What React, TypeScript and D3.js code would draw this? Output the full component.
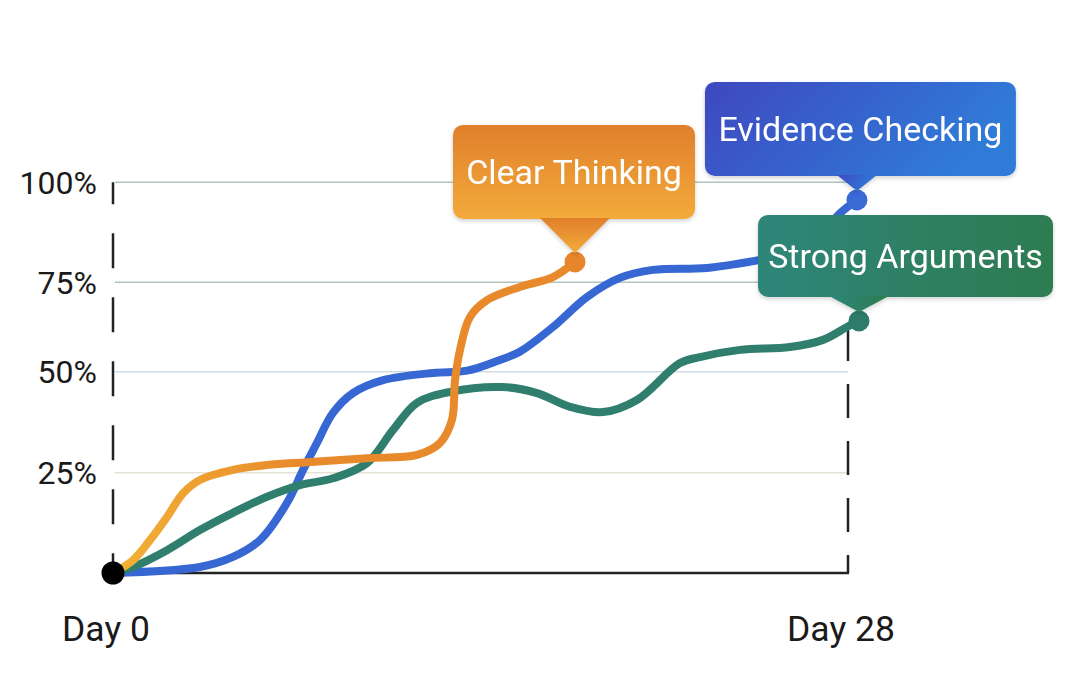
import React from 'react'
import * as d3 from 'd3'

// [day, percent]
const clearThinking: [number, number][] = [
  [0, 0], [0.76, 3.2], [1.41, 8.2], [2.06, 14], [2.67, 19.9], [3.31, 23.2],
  [4.57, 25.7], [5.87, 26.9], [7.39, 27.6], [9.68, 28.6], [11.58, 29.4],
  [12.46, 32.4], [12.91, 38], [13.03, 47.9], [13.22, 56.1], [13.6, 65.3],
  [14.25, 70], [15.5, 73.7], [16.76, 76.3], [17.6, 80.1]
]
const evidenceChecking: [number, number][] = [
  [0, 0], [3.31, 1.5], [4.57, 4], [5.6, 8.2], [6.63, 17.5], [7.24, 25.7],
  [7.77, 32.4], [8.38, 39.8], [9.14, 44.7], [10.29, 47.9], [12.19, 49.7],
  [13.49, 50.3], [14.74, 53.3], [15.5, 55.6], [16.76, 62.5], [18.06, 70.9],
  [19.31, 76.1], [20.57, 78.1], [22.63, 78.6], [24.65, 80.6], [25.94, 82.3],
  [26.93, 86.8], [27.7, 92.3], [28.34, 95.6]
]
const strongArguments: [number, number][] = [
  [0, 0], [0.76, 1.5], [2.06, 5.7], [3.31, 10.7], [4.57, 15], [5.87, 19],
  [7.12, 21.9], [8.38, 23.6], [9.68, 27.4], [10.67, 35.6], [11.58, 42.3],
  [12.84, 45], [14.86, 46.2], [16.15, 44.7], [17.41, 41.3], [18.67, 40],
  [19.96, 43], [21.6, 52.4], [22.36, 54.1], [23.89, 56.1], [25.79, 56.9],
  [27.05, 58.9], [27.96, 62.5], [28.42, 64.2]
]

const yTicks = [25, 50, 75, 100]
const yTickLabels = ['25%', '50%', '75%', '100%']
const xTicks = [0, 28]
const xTickLabels = ['Day 0', 'Day 28']

const gridColors = ['#e6e1d7', '#cfdbe4', '#b3c3bd', '#b3c3bd']

const series = [
  { key: 'evidence', label: 'Evidence Checking', data: evidenceChecking, color: '#3667d2', dot: '#3a6ad6' },
  { key: 'strong', label: 'Strong Arguments', data: strongArguments, color: '#2f7e6e', dot: '#2f7b6b' },
  { key: 'clear', label: 'Clear Thinking', data: clearThinking, color: 'url(#orangeLine)', dot: '#e6852b' }
]

// callout box layout relative to each series' last point
const callouts: Record<string, { dx: number; gap: number; w: number; h: number; pw: number; fill: string }> = {
  clear: { dx: -1, gap: 43, w: 242, h: 94, pw: 35, fill: 'url(#orangeBox)' },
  evidence: { dx: 3.5, gap: 24, w: 311, h: 94, pw: 20, fill: 'url(#blueBox)' },
  strong: { dx: 46.5, gap: 24, w: 295, h: 82, pw: 30, fill: 'url(#greenBox)' }
}

const W = 1069
const H = 697
const FONT = 'Roboto, "Noto Sans", sans-serif'

const App: React.FC = () => {
  const x = d3.scaleLinear().domain([0, 28]).range([113, 848])
  // the picture's gridlines are not evenly spaced, so a piecewise scale
  const y = d3.scaleLinear().domain([0, 25, 50, 75, 100]).range([573, 472.7, 371.7, 282.3, 182.3])

  const line = d3.line<[number, number]>()
    .x(d => x(d[0]))
    .y(d => y(d[1]))
    .curve(d3.curveCatmullRom.alpha(0.5))

  const x0 = x(0)
  const x1 = x(28)
  const yTop = y(100)
  const yBottom = y(0)
  const strongEnd = strongArguments[strongArguments.length - 1]

  return (
    <svg width={W} height={H} style={{ position: 'absolute', left: 0, top: 0, background: '#fff' }}>
      <defs>
        <linearGradient id="orangeLine" gradientUnits="userSpaceOnUse" x1={x0} y1={0} x2={x(7)} y2={0}>
          <stop offset="0%" stopColor="#f2b236" />
          <stop offset="100%" stopColor="#e88a2b" />
        </linearGradient>
        <linearGradient id="orangeBox" x1="0" y1="0" x2="0" y2="1">
          <stop offset="0%" stopColor="#e07f2b" />
          <stop offset="100%" stopColor="#f3ab3b" />
        </linearGradient>
        <linearGradient id="blueBox" x1="0" y1="0" x2="1" y2="0.3">
          <stop offset="0%" stopColor="#3f48c0" />
          <stop offset="100%" stopColor="#2f7bd8" />
        </linearGradient>
        <linearGradient id="greenBox" x1="0" y1="0" x2="1" y2="0">
          <stop offset="0%" stopColor="#2f867a" />
          <stop offset="100%" stopColor="#2f7b50" />
        </linearGradient>
        <filter id="shadow" x="-10%" y="-10%" width="120%" height="130%">
          <feDropShadow dx="0" dy="2" stdDeviation="2" floodColor="#000" floodOpacity="0.18" />
        </filter>
      </defs>

      {/* gridlines */}
      {yTicks.map((t, i) => (
        <line key={t} x1={x0 + 2} x2={x1} y1={y(t)} y2={y(t)} stroke={gridColors[i]} strokeWidth={1.5} />
      ))}

      {/* y tick labels */}
      {yTicks.map((t, i) => (
        <text key={t} x={97} y={y(t)} dy="0.35em" textAnchor="end"
          style={{ fontFamily: FONT, fontSize: 32, fill: '#1a1a1a' }}>
          {yTickLabels[i]}
        </text>
      ))}

      {/* axes */}
      <line x1={x0} x2={x0} y1={yTop} y2={yBottom} stroke="#222" strokeWidth={2.5}
        strokeDasharray="35 29" strokeDashoffset={13} />
      <line x1={x1} x2={x1} y1={yBottom} y2={y(strongEnd[1])} stroke="#222" strokeWidth={2.5}
        strokeDasharray="34 23" strokeDashoffset={16} />
      <line x1={x0} x2={x1 + 1} y1={yBottom} y2={yBottom} stroke="#222" strokeWidth={2.5} />

      {/* x tick labels */}
      {xTicks.map((t, i) => (
        <text key={t} x={x(t) - 7} y={641} textAnchor="middle"
          style={{ fontFamily: FONT, fontSize: 35.5, fill: '#1a1a1a' }}>
          {xTickLabels[i]}
        </text>
      ))}

      {/* series lines */}
      {series.map(s => (
        <path key={s.key} d={line(s.data) || ''} fill="none" stroke={s.color}
          strokeWidth={8} strokeLinecap="round" strokeLinejoin="round" />
      ))}

      {/* end dots */}
      {series.map(s => {
        const last = s.data[s.data.length - 1]
        return <circle key={s.key} cx={x(last[0])} cy={y(last[1])} r={10.5} fill={s.dot} />
      })}

      <circle cx={x0} cy={yBottom} r={11.5} fill="#000" />

      {/* callouts */}
      {series.map(s => {
        const c = callouts[s.key]
        const last = s.data[s.data.length - 1]
        const px = x(last[0])
        const py = y(last[1])
        const bottom = py - c.gap
        const top = bottom - c.h
        const cx = px + c.dx
        const left = cx - c.w / 2
        const tip = py - 9
        return (
          <g key={s.key} filter="url(#shadow)">
            <rect x={left} y={top} width={c.w} height={c.h} rx={10} fill={c.fill} />
            <path d={`M${px - c.pw},${bottom - 1}L${px + c.pw},${bottom - 1}L${px},${tip}Z`} fill={c.fill} />
            <text x={cx} y={top + c.h / 2 + 12} textAnchor="middle"
              style={{ fontFamily: FONT, fontSize: 34, fill: '#fff' }}>
              {s.label}
            </text>
          </g>
        )
      })}
    </svg>
  )
}

export default App
